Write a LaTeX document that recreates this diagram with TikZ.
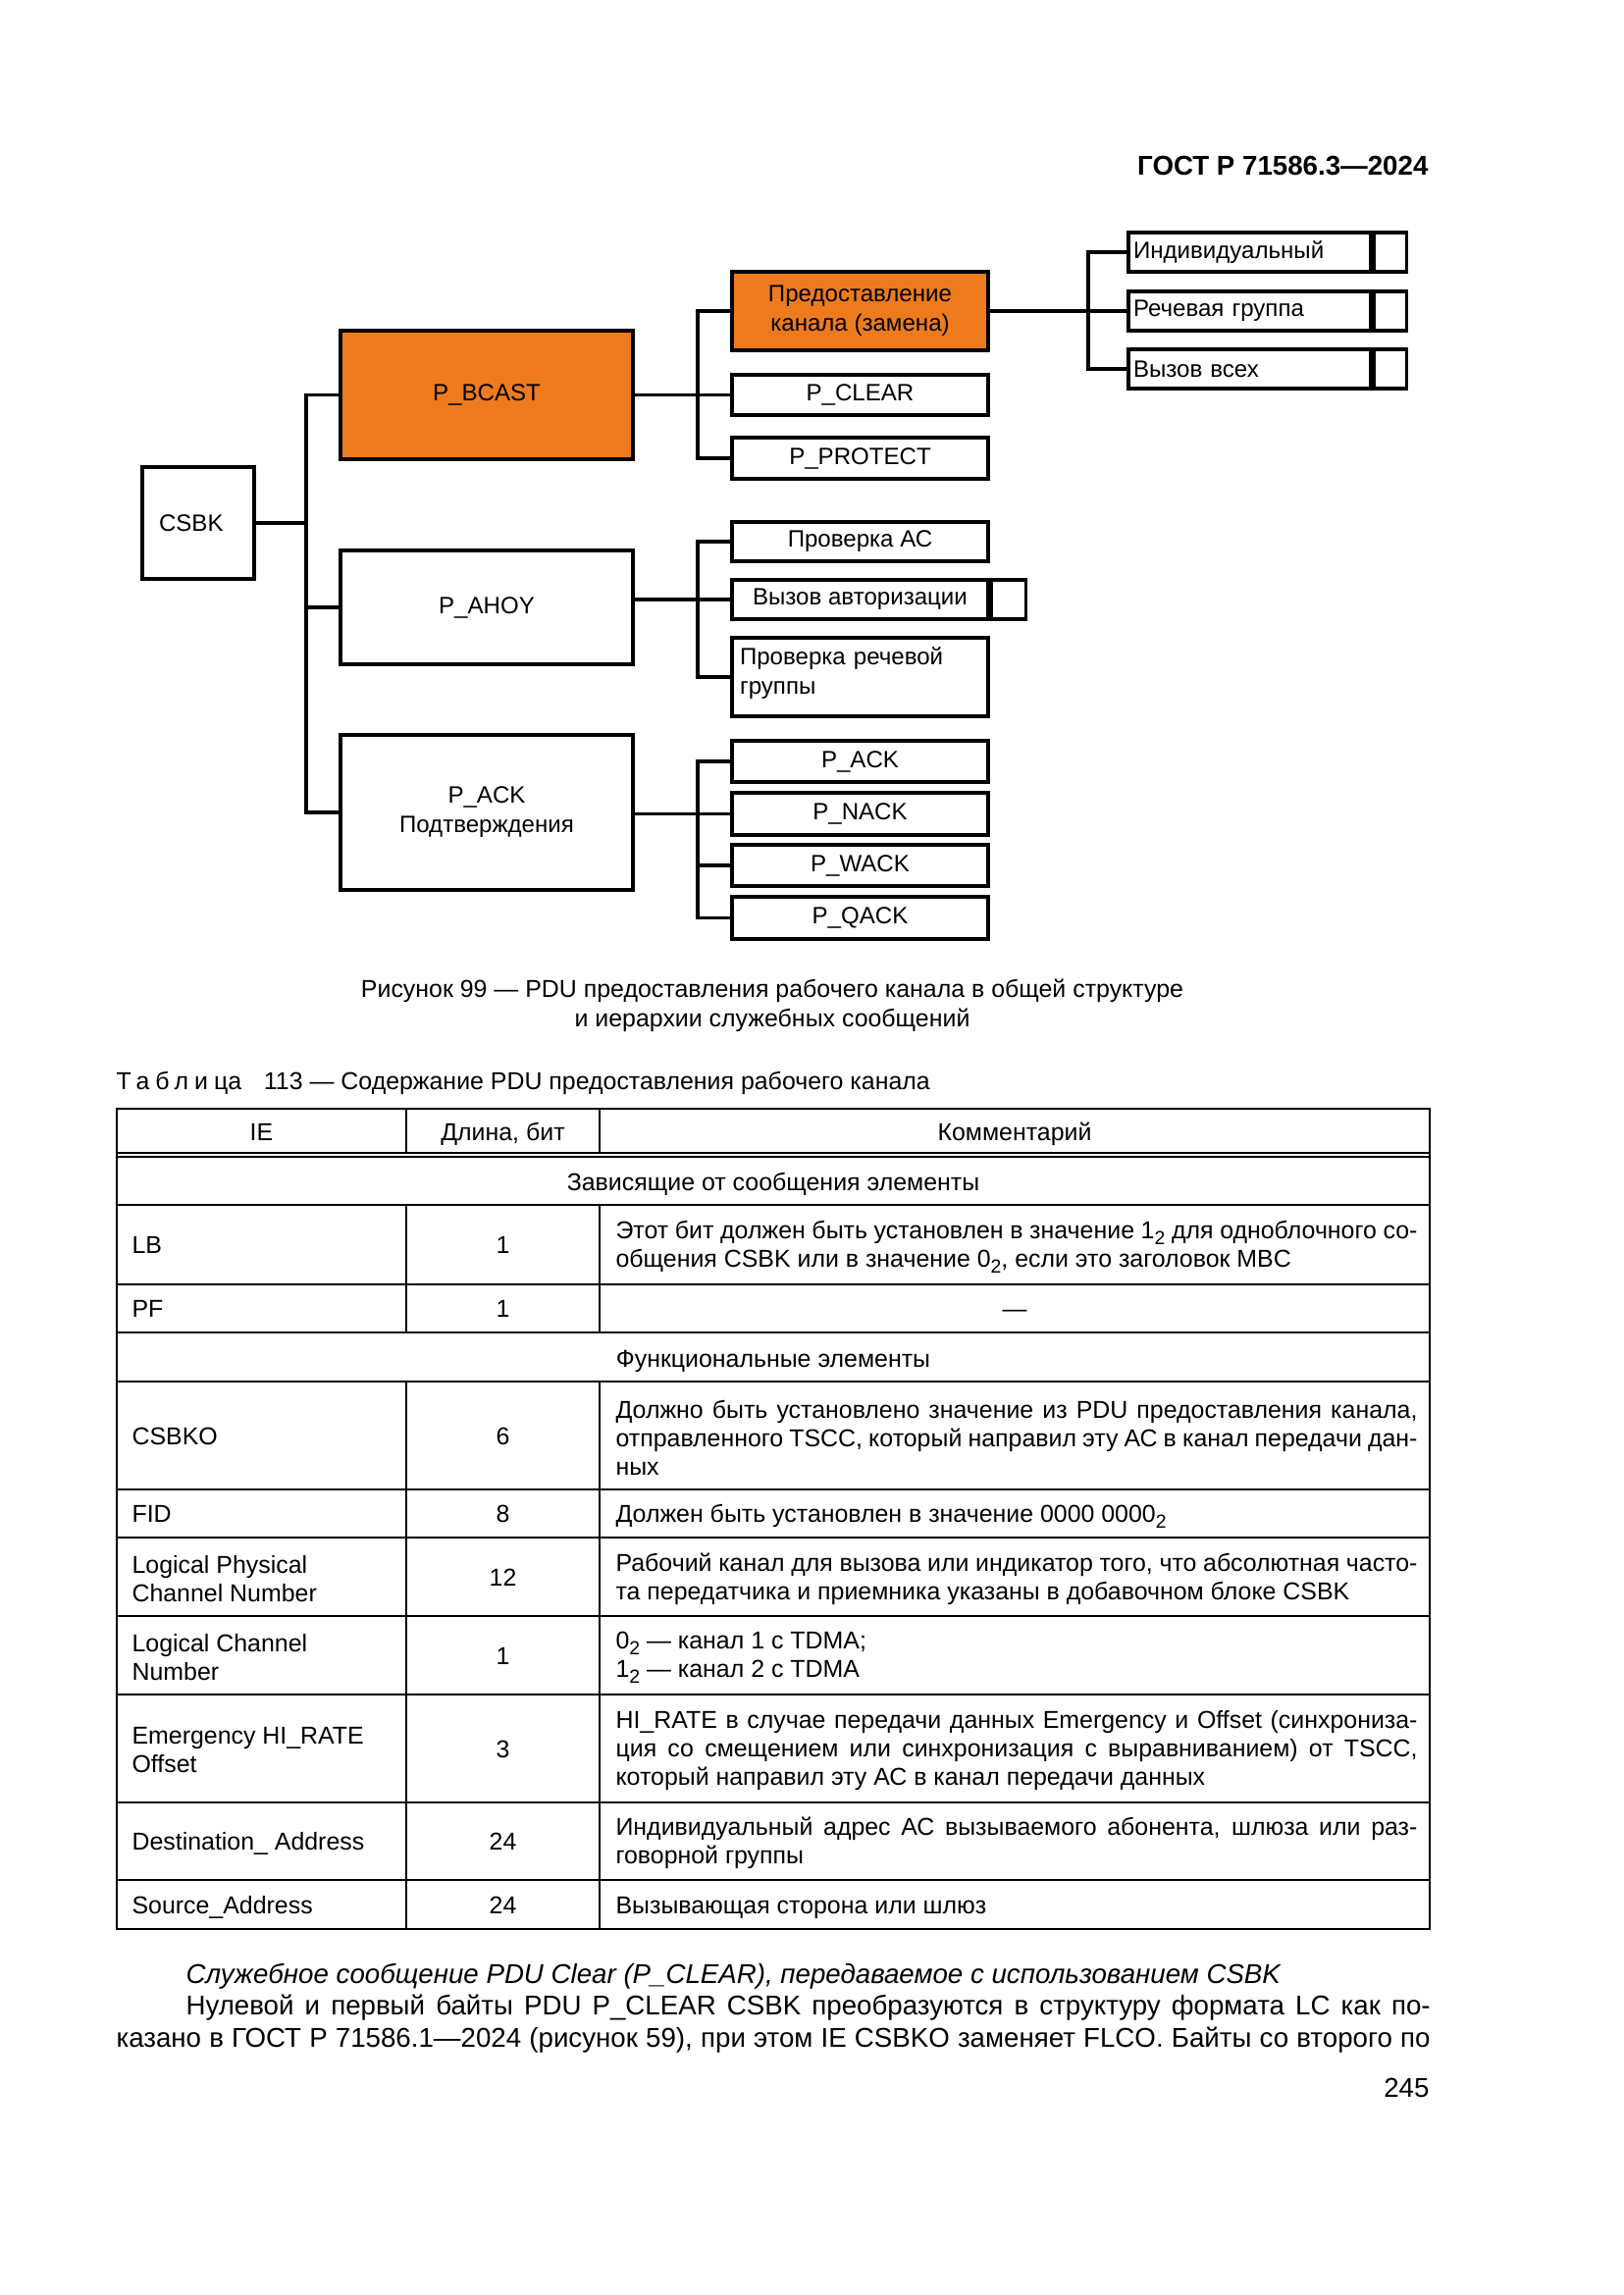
\documentclass[tikz,border=0pt]{standalone}
\usepackage{fontspec}
\setmainfont{Liberation Sans}
\usetikzlibrary{positioning}

\definecolor{bcastorange}{RGB}{237,123,30}
\newcommand{\pxu}{0.12697mm}
\newcommand{\diafont}{\fontsize{8.7}{10.8}\selectfont}
\newcommand{\tabfont}{\fontsize{9}{10.5}\selectfont}
\newcommand{\bodyfont}{\fontsize{10}{11.5}\selectfont}
\newcommand{\binidx}[1]{\raisebox{-0.45ex}{\fontsize{7}{7}\selectfont #1}}

\tikzset{
  box/.style={draw, line width=1.1pt, inner sep=0pt, font=\diafont, align=center},
  leaf/.style={box, minimum width=261*\pxu},
  tag/.style={box, minimum width=247*\pxu, minimum height=40*\pxu, text width=237*\pxu, align=left},
  endcell/.style={box, minimum width=33*\pxu, minimum height=40*\pxu, anchor=west},
  link/.style={line width=1.1pt},
  grid/.style={line width=0.7pt},
  thin grid/.style={line width=0.45pt},
  txt/.style={inner sep=0pt, font=\tabfont, text height=0.72em, text depth=0.2em, yshift=-0.25mm},
  para/.style={inner sep=0pt, font=\tabfont, anchor=west, text width=817*\pxu, align=justify, yshift=-0.25mm},
  two/.style={inner sep=0pt, font=\tabfont, anchor=west, align=left, yshift=-0.25mm},
  bodyline/.style={inner sep=0pt, font=\bodyfont, anchor=west, text height=0.72em, text depth=0.2em}
}

\begin{document}
\begin{tikzpicture}[x=0.12697mm, y=-0.12697mm]
    \fill[white] (0,0) rectangle (1654,2339);
    \useasboundingbox (0,0) rectangle (1654,2339);

    % Running head
    \node[font=\bodyfont\bfseries, anchor=east, inner sep=0pt] (head) at (1456,169) {ГОСТ Р 71586.3—2024};

    % Hierarchy: root and message groups
    \node[box, minimum width=114*\pxu, minimum height=114*\pxu, text width=80*\pxu, align=left] (csbk) at (202,533) {CSBK};
    \node[box, fill=bcastorange, minimum width=298*\pxu, minimum height=131*\pxu] (bcast) at (496,402.5) {P\_BCAST};
    \node[box, minimum width=298*\pxu, minimum height=116*\pxu] (ahoy) at (496,619) {P\_AHOY};
    \node[box, minimum width=298*\pxu, minimum height=158*\pxu] (ack) at (496,828) {P\_ACK\\Подтверждения};

    % P_BCAST branch
    \node[leaf, fill=bcastorange, minimum height=80*\pxu] (grant) at (876.5,317) {Предоставление\\канала (замена)};
    \node[leaf, minimum height=41*\pxu] (clear) at (876.5,402.5) {P\_CLEAR};
    \node[leaf, minimum height=42*\pxu] (protect) at (876.5,467) {P\_PROTECT};

    % Grant targets
    \node[tag] (ind) at (1273.5,257) {Индивидуальный};
    \node[tag] (talk) at (1273.5,317) {Речевая группа};
    \node[tag] (all) at (1273.5,376) {Вызов всех};
    \node[endcell, right=0pt of ind] (indend) {};
    \node[endcell, right=0pt of talk] (talkend) {};
    \node[endcell, right=0pt of all] (allend) {};

    % P_AHOY branch
    \node[leaf, minimum height=40*\pxu] (check) at (876.5,552) {Проверка АС};
    \node[leaf, minimum height=40*\pxu] (auth) at (876.5,611) {Вызов авторизации};
    \node[endcell, minimum width=35*\pxu, right=0pt of auth] (authend) {};
    \node[leaf, minimum height=80*\pxu, text width=245*\pxu, align=left] (voice) at (876.5,690) {Проверка речевой\\группы\\[-6pt]\mbox{}};

    % P_ACK branch
    \node[leaf, minimum height=42*\pxu] (pack) at (876.5,776) {P\_ACK};
    \node[leaf, minimum height=43*\pxu] (nack) at (876.5,829.5) {P\_NACK};
    \node[leaf, minimum height=42*\pxu] (wack) at (876.5,882) {P\_WACK};
    \node[leaf, minimum height=43*\pxu] (qack) at (876.5,935.5) {P\_QACK};

    % Connectors
    \coordinate (spine) at (312,0);
    \coordinate (forkA) at (711,0);
    \coordinate (forkB) at (1109,0);
    \draw[link] (csbk.east) -- (csbk.east -| spine);
    \draw[link] (bcast.west) -- (bcast.west -| spine) -- (ack.west -| spine) -- (ack.west);
    \draw[link] (ahoy.west) -- (ahoy.west -| spine);

    \draw[link] (bcast.east) -- (clear.west);
    \draw[link] (grant.west) -- (grant.west -| forkA) -- (protect.west -| forkA) -- (protect.west);

    \draw[link] (grant.east) -- (talk.west);
    \draw[link] (ind.west) -- (ind.west -| forkB) -- (all.west -| forkB) -- (all.west);

    \draw[link] (ahoy.east |- auth.west) -- (auth.west);
    \draw[link] (check.west) -- (check.west -| forkA) -- (voice.west -| forkA) -- (voice.west);

    \draw[link] (ack.east |- nack.west) -- (nack.west);
    \draw[link] (pack.west) -- (pack.west -| forkA) -- (qack.west -| forkA) -- (qack.west);
    \foreach \kid in {wack} \draw[link] (\kid.west) -- (\kid.west -| forkA);

    % Figure caption and table title
    \node[font=\fontsize{9}{10.8}\selectfont, align=center, inner sep=0pt] (figcap) at (787,1025) {Рисунок 99 — PDU предоставления рабочего канала в общей структуре\\и иерархии служебных сообщений};
    \node[txt, anchor=west] (tabcap) at (118,1101) {{\addfontfeature{LetterSpace=24}Таблиц}а\hspace{2.9mm}113 — Содержание PDU предоставления рабочего канала};

    % Table rules
    \draw[grid] (119,1130) rectangle (1457,1966);
    \draw[thin grid] (119,1175) -- (1457,1175);
    \draw[thin grid] (119,1179) -- (1457,1179);
    \foreach \yy in {1228,1309,1358,1408,1518,1567,1647,1727,1837,1916}
        \draw[grid] (119,\yy) -- (1457,\yy);
    \foreach \xx in {414,611} {
        \draw[thin grid] (\xx,1130) -- (\xx,1175);
        \draw[grid] (\xx,1228) -- (\xx,1358);
        \draw[grid] (\xx,1408) -- (\xx,1966);
    }

    % Table header and group rows
    \node[txt] (hie) at (266.5,1153) {IE};
    \node[txt] (hlen) at (512.5,1153) {Длина, бит};
    \node[txt] (hcom) at (1034,1153) {Комментарий};
    \node[txt] (grpmsg) at (788,1204) {Зависящие от сообщения элементы};
    \node[txt] (grpfun) at (788,1384) {Функциональные элементы};

    % Table body
    \node[txt, anchor=west] (lb) at (134,1268.5) {LB};
    \node[txt] (lbn) at (512.5,1268.5) {1};
    \node[para] (lbc) at (627,1268.5) {Этот бит должен быть установлен в значение 1\binidx{2} для одноблочного со-\linebreak общения CSBK или в значение 0\binidx{2}, если это заголовок MBC};

    \node[txt, anchor=west] (pf) at (134,1333) {PF};
    \node[txt] (pfn) at (512.5,1333) {1};
    \node[txt] (pfc) at (1034,1333) {—};

    \node[txt, anchor=west] (csbko) at (134,1463) {CSBKO};
    \node[txt] (csbkon) at (512.5,1463) {6};
    \node[para] (csbkoc) at (627,1463) {Должно быть установлено значение из PDU предоставления канала,\linebreak отправленного TSCC, который направил эту АС в канал передачи дан-\linebreak ных};

    \node[txt, anchor=west] (fid) at (134,1542.5) {FID};
    \node[txt] (fidn) at (512.5,1542.5) {8};
    \node[txt, anchor=west] (fidc) at (627,1542.5) {Должен быть установлен в значение 0000 0000\binidx{2}};

    \node[two] (lpcn) at (134,1607) {Logical Physical\\Channel Number};
    \node[txt] (lpcnn) at (512.5,1607) {12};
    \node[para] (lpcnc) at (627,1607) {Рабочий канал для вызова или индикатор того, что абсолютная часто-\linebreak та передатчика и приемника указаны в добавочном блоке CSBK};

    \node[two] (lcn) at (134,1687) {Logical Channel\\Number};
    \node[txt] (lcnn) at (512.5,1687) {1};
    \node[two] (lcnc) at (627,1687) {0\binidx{2} — канал 1 с TDMA;\\1\binidx{2} — канал 2 с TDMA};

    \node[two] (ehr) at (134,1782) {Emergency HI\_RATE\\Offset};
    \node[txt] (ehrn) at (512.5,1782) {3};
    \node[para] (ehrc) at (627,1782) {HI\_RATE в случае передачи данных Emergency и Offset (синхрониза-\linebreak ция со смещением или синхронизация с выравниванием) от TSCC,\linebreak который направил эту АС в канал передачи данных};

    \node[txt, anchor=west] (dst) at (134,1876.5) {Destination\_ Address};
    \node[txt] (dstn) at (512.5,1876.5) {24};
    \node[para] (dstc) at (627,1876.5) {Индивидуальный адрес АС вызываемого абонента, шлюза или раз-\linebreak говорной группы};

    \node[txt, anchor=west] (src) at (134,1941) {Source\_Address};
    \node[txt] (srcn) at (512.5,1941) {24};
    \node[txt, anchor=west] (srcc) at (627,1941) {Вызывающая сторона или шлюз};

    % Running text below the table
    \node[bodyline] (sub) at (189,2014) {\itshape Служебное сообщение PDU Clear (P\_CLEAR), передаваемое с использованием CSBK};
    \node[bodyline] (lineA) at (189,2046) {\makebox[161mm][s]{Нулевой и первый байты PDU P\_CLEAR CSBK преобразуются в структуру формата LC как по-}};
    \node[bodyline] (lineB) at (118,2079) {\makebox[170mm][s]{казано в ГОСТ Р 71586.1—2024 (рисунок 59), при этом IE CSBKO заменяет FLCO. Байты со второго по}};
    \node[bodyline, anchor=east] (folio) at (1457,2130) {245};
\end{tikzpicture}
\end{document}
